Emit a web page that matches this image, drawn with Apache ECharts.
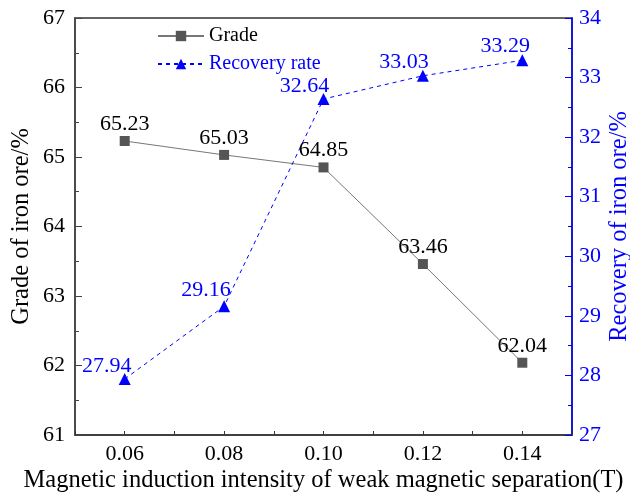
<!DOCTYPE html>
<html><head><meta charset="utf-8">
<script src="https://cdn.jsdelivr.net/npm/echarts@6/dist/echarts.min.js"></script>
<style>html,body{margin:0;padding:0;background:#fff}#c{width:630px;height:496px}</style>
</head><body><div id="c"></div>
<script>
const categories = ['0.06','0.08','0.10','0.12','0.14'];
const grade = [65.23, 65.03, 64.85, 63.46, 62.04];
const recovery = [27.94, 29.16, 32.64, 33.03, 33.29];
const gradeLabelOffsets = [[0,0],[0,0],[0,0],[0,0],[0,0]];
const recLabelOffsets = [[-18,5],[-18,2],[-19,5],[-19,4],[-17,4]];
const FONT = 'Liberation Serif';
const chart = echarts.init(document.getElementById('c'));
chart.setOption({
  backgroundColor:'#fff',
  animation:false,
  textStyle:{fontFamily:FONT},
  grid:{left:75,right:58,top:18,bottom:61,outerBoundsMode:'none',containLabel:false,show:true,borderColor:'#333',borderWidth:1.5,backgroundColor:'transparent'},
  legend:{
    orient:'vertical', left:157, top:26, padding:0, itemWidth:46, itemHeight:13, itemGap:8,
    textStyle:{fontFamily:FONT,fontSize:20},
    data:[{name:'Grade',textStyle:{color:'#000'}},{name:'Recovery rate',textStyle:{color:'#0000ff'}}]
  },
  xAxis:[{
    type:'category', data:categories, boundaryGap:true,
    axisLine:{lineStyle:{color:'#333',width:1.5}},
    axisTick:{inside:true,alignWithLabel:true,length:7,lineStyle:{color:'#333'}},
    axisLabel:{color:'#000',fontSize:22,fontFamily:FONT,margin:8},
    name:'Magnetic induction intensity of weak magnetic separation(T)',
    nameLocation:'middle', nameGap:33, nameMoveOverlap:false,
    nameTextStyle:{color:'#000',fontSize:24.5,fontFamily:FONT},
    splitLine:{show:false}
  },{
    type:'value', min:0, max:10, interval:1, position:'bottom',
    axisLine:{show:false},
    axisTick:{inside:true,length:4,lineStyle:{color:'#333'}},
    axisLabel:{show:false}, splitLine:{show:false}
  }],
  yAxis:[{
    type:'value', min:61, max:67, interval:1, position:'left',
    axisLine:{show:true,lineStyle:{color:'#444',width:1.5}},
    axisTick:{show:true,inside:true,length:7,lineStyle:{color:'#444'}},
    minorTick:{show:true,splitNumber:2,length:4,lineStyle:{color:'#444'}},
    axisLabel:{color:'#000',fontSize:22,fontFamily:FONT,margin:10},
    splitLine:{show:false},
    name:'Grade of iron ore/%', nameLocation:'middle', nameGap:41, nameMoveOverlap:false,
    nameTextStyle:{color:'#000',fontSize:24.5,fontFamily:FONT}
  },{
    type:'value', min:27, max:34, interval:1, position:'right',
    axisLine:{show:true,lineStyle:{color:'#0000ff',width:1.5}},
    axisTick:{show:true,inside:true,length:7,lineStyle:{color:'#0000ff'}},
    minorTick:{show:true,splitNumber:2,length:4,lineStyle:{color:'#0000ff'}},
    axisLabel:{color:'#0000ff',fontSize:22,fontFamily:FONT,margin:7},
    splitLine:{show:false},
    name:'Recovery of iron ore/%', nameLocation:'middle', nameGap:35, nameRotate:90, nameMoveOverlap:false,
    nameTextStyle:{color:'#0000ff',fontSize:24.5,fontFamily:FONT}
  }],
  series:[{
    name:'Grade', type:'line', xAxisIndex:0, yAxisIndex:0,
    symbol:'rect', symbolSize:10,
    itemStyle:{color:'#555'},
    lineStyle:{color:'#777',width:1},
    data:grade.map((v,i)=>({value:v,label:{offset:gradeLabelOffsets[i]}})),
    label:{show:true,position:'top',distance:1,color:'#000',fontSize:22,fontFamily:FONT,formatter:p=>p.value.toFixed(2)}
  },{
    name:'Recovery rate', type:'line', xAxisIndex:0, yAxisIndex:1,
    symbol:'triangle', symbolSize:12,
    itemStyle:{color:'#0000ff'},
    lineStyle:{color:'#0000ff',width:1,type:[4,4]},
    data:recovery.map((v,i)=>({value:v,label:{offset:recLabelOffsets[i]}})),
    label:{show:true,position:'top',distance:1,color:'#0000ff',fontSize:22,fontFamily:FONT,formatter:p=>p.value.toFixed(2)}
  }]
});
</script></body></html>
